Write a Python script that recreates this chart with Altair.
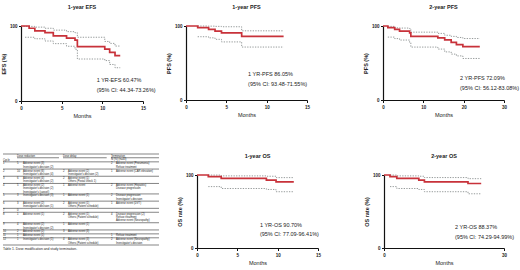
import altair as alt
import pandas as pd

FONT = "Liberation Sans"
RED = "#c8323a"
GRAY = "#8a8f8f"

# ---------------- Kaplan-Meier data (months, %) ----------------
# 1-year EFS
EFS_T = [0, 1.0, 1.7, 2.95, 3.97, 5.6, 6.64, 6.93, 10.3, 10.9, 11.56, 12.2]
EFS_S = [100, 97.0, 93.4, 91.2, 86.8, 83.8, 81.1, 72.4, 69.3, 64.9, 60.47, 60.47]
EFS_HT = [0.3, 1.7, 2.95, 3.97, 5.6, 6.64, 6.93, 10.3, 10.9, 11.56, 12.2]
EFS_H = [99.5, 98.5, 97.0, 94.5, 92.5, 91.0, 85.0, 79.4, 76.8, 73.26, 73.26]
EFS_LT = [0.5, 1.7, 2.95, 3.97, 5.6, 6.64, 6.93, 10.3, 10.9, 11.56, 12.2]
EFS_L = [85.0, 83.0, 80.0, 76.5, 73.0, 69.0, 56.0, 53.9, 48.7, 44.34, 44.34]

# 1-year PFS
PFS1_T = [0, 1.45, 2.8, 3.6, 4.4, 6.9, 12.1]
PFS1_S = [100, 97.7, 95.35, 93.0, 90.7, 86.05, 86.05]
PFS1_HT = [1.45, 2.8, 3.6, 4.4, 6.9, 12.1]
PFS1_H = [100, 99.8, 99.5, 99.0, 93.48, 93.48]
PFS1_LT = [1.45, 2.8, 3.6, 4.4, 6.9, 12.1]
PFS1_L = [85.5, 84.0, 82.0, 78.5, 71.55, 71.55]

# 2-year PFS
PFS2_T = [0, 1.2, 2.9, 4.1, 6.6, 6.9, 13.6, 15.3, 16.9, 18.2, 19.8, 24.0]
PFS2_S = [100, 97.7, 95.35, 93.0, 90.7, 86.05, 84.0, 81.2, 78.0, 74.8, 72.09, 72.09]
PFS2_HT = [1.2, 2.9, 4.1, 6.6, 6.9, 13.6, 15.3, 16.9, 18.2, 19.8, 24.0]
PFS2_H = [99.5, 97.5, 97.2, 96.5, 91.7, 90.0, 87.5, 86.0, 84.5, 83.08, 83.08]
PFS2_LT = [1.2, 2.9, 4.1, 6.6, 6.9, 13.6, 15.3, 16.9, 18.2, 19.8, 24.0]
PFS2_L = [85.0, 83.0, 81.0, 78.0, 71.5, 68.8, 65.0, 62.0, 59.6, 56.12, 56.12]

# 1-year OS
OS1_T = [0, 1.4, 3.0, 8.6, 9.8, 12.0]
OS1_S = [100, 97.7, 95.35, 93.0, 90.7, 90.7]
OS1_HT = [1.4, 3.0, 8.6, 9.8, 12.0]
OS1_H = [99.9, 98.8, 98.3, 96.41, 96.41]
OS1_LT = [1.4, 3.0, 8.6, 9.8, 12.0]
OS1_L = [84.1, 81.5, 80.2, 77.09, 77.09]

# 2-year OS
OS2_T = [0, 1.5, 3.2, 8.7, 10.1, 21.0, 24.3]
OS2_S = [100, 97.7, 95.35, 93.0, 90.7, 88.37, 88.37]
OS2_HT = [1.5, 3.2, 8.7, 10.1, 21.0, 24.3]
OS2_H = [99.9, 98.8, 98.3, 96.5, 94.99, 94.99]
OS2_LT = [1.5, 3.2, 8.7, 10.1, 21.0, 24.3]
OS2_L = [84.1, 81.5, 80.2, 77.1, 74.29, 74.29]

# ---------------- Table 1 data ----------------
CYCLES = ["1", "2", "3", "4", "5", "6", "7", "8", "9", "10", "11", "12"]
RED_N = ["5", "10", "6", "5", "3", "3", "0", "1", "4", "2", "1", "1"]
RED_TXT = [
    ["Adverse event (3)", "Investigator's decision (2)"],
    ["Adverse event (6)", "Investigator's decision (4)"],
    ["Adverse event (4)", "Investigator's decision (2)"],
    ["Adverse event (2)", "Investigator's decision (2)", "Investigator's (cancel)"],
    ["Investigator's decision (3)"],
    ["Adverse event (2)", "Investigator's decision (1)"],
    [],
    ["Adverse event (1)"],
    ["Adverse event (2)", "Investigator's decision (2)"],
    ["Adverse event (2)"],
    ["Adverse event (1)"],
    ["Investigator's decision (1)"],
]
DELAY_N = ["", "2", "2", "1", "1", "2", "", "2", "1", "3", "", "4"]
DELAY_TXT = [
    [],
    ["Adverse event (2)", "Investigator's decision (2)"],
    ["Adverse event (1)", "Others (Postal check 1)"],
    ["Adverse event"],
    ["Adverse event (1)"],
    ["Adverse event (1)", "Others (Patient schedule)"],
    [],
    ["Adverse event (1)", "Others (Patient schedule)"],
    ["Adverse event (1)"],
    ["Adverse event (3)"],
    [],
    ["Adverse event (3)", "Others (Patient schedule)"],
]
TERM_N = ["2", "1", "", "2", "2", "1", "", "4", "", "", "1", "2"]
TERM_TXT = [
    ["Adverse event (Pneumonia)", "Refuse treatment"],
    ["Adverse event (CAR elevation)"],
    [],
    ["Adverse event (Hepatitis)", "Disease progression"],
    ["Disease progression", "Investigator's decision"],
    ["Adverse event (DVT)"],
    [],
    ["Disease progression (2)", "Refuse treatment", "Adverse event (Neuropathy)"],
    [],
    [],
    ["Refuse treatment"],
    ["Adverse event (Neuropathy)", "Investigator's decision"],
]
HEADERS = ["Dose reduction", "Dose delay", "Termination"]
SUBHEADER = "N (%) (n=43)"
CYCLE_LABEL = "Cycle"
CAPTION = "Table 1. Dose modification and study termination."


def km_df(t, s, ht, h, lt, l):
    rows = [{"t": a, "v": b, "s": "est"} for a, b in zip(t, s)]
    rows += [{"t": a, "v": b, "s": "hi"} for a, b in zip(ht, h)]
    rows += [{"t": a, "v": b, "s": "lo"} for a, b in zip(lt, l)]
    return pd.DataFrame(rows)


def km_panel(title, ytitle, xmax, xticks, data, txt1, txt2, tx, ty1, ty2, w, h):
    df = km_df(*data)
    xs = alt.Scale(domain=[0, xmax], nice=False, zero=True)
    ys = alt.Scale(domain=[0, 100], nice=False)
    x = alt.X("t:Q", scale=xs, axis=alt.Axis(values=xticks, title="Months"))
    y = alt.Y("v:Q", scale=ys, axis=alt.Axis(values=[0, 50, 100], title=ytitle))
    base = alt.Chart(df)
    ci = base.transform_filter(alt.datum.s != "est").mark_line(
        interpolate="step-after", color=GRAY, strokeWidth=0.9, strokeDash=[1.3, 1.3]
    ).encode(x=x, y=y, detail="s:N")
    est = base.transform_filter(alt.datum.s == "est").mark_line(
        interpolate="step-after", color=RED, strokeWidth=1.7
    ).encode(x=x, y=y)
    t1 = alt.Chart(pd.DataFrame({"label": [txt1]})).mark_text(
        align="left", baseline="middle", fontSize=5.5, font=FONT, color="#222"
    ).encode(text="label:N", x=alt.datum(tx), y=alt.datum(ty1))
    t2 = alt.Chart(pd.DataFrame({"label": [txt2]})).mark_text(
        align="left", baseline="middle", fontSize=5.5, font=FONT, color="#222"
    ).encode(text="label:N", x=alt.datum(tx), y=alt.datum(ty2))
    return alt.layer(ci, est, t1, t2).properties(
        width=w, height=h,
        title=alt.TitleParams(title, fontSize=5.5, fontWeight="bold", font=FONT,
                              offset=12, anchor="middle", color="#222"),
    )


def spacer(w, h):
    return alt.Chart(pd.DataFrame({"z": [0]})).mark_point(opacity=0, size=0).encode(
        x=alt.value(0), y=alt.value(0)
    ).properties(width=w, height=h)


# ---------------- table chart ----------------
txt_rows = []
rule_rows = []
rule_rows.append({"c1": 0, "c2": 7, "ln": 0.0})
for col, htxt in zip([1, 3, 5], HEADERS):
    txt_rows.append({"c": col, "ln": 0.6, "txt": htxt})
rule_rows += [{"c1": 1, "c2": 2.9, "ln": 1.15}, {"c1": 3, "c2": 4.9, "ln": 1.15},
              {"c1": 5, "c2": 7, "ln": 1.15}]
txt_rows.append({"c": 5, "ln": 1.65, "txt": SUBHEADER})
txt_rows.append({"c": 0, "ln": 1.9, "txt": CYCLE_LABEL})
rule_rows.append({"c1": 0, "c2": 7, "ln": 2.4})
ln = 2.4
for i in range(len(CYCLES)):
    nlines = max(len(RED_TXT[i]), len(DELAY_TXT[i]), len(TERM_TXT[i]), 1)
    first = ln + 0.6
    txt_rows.append({"c": 0, "ln": first, "txt": CYCLES[i]})
    txt_rows.append({"c": 1, "ln": first, "txt": RED_N[i]})
    txt_rows.append({"c": 3, "ln": first, "txt": DELAY_N[i]})
    txt_rows.append({"c": 5, "ln": first, "txt": TERM_N[i]})
    for k, s in enumerate(RED_TXT[i]):
        txt_rows.append({"c": 2, "ln": first + k, "txt": s})
    for k, s in enumerate(DELAY_TXT[i]):
        txt_rows.append({"c": 4, "ln": first + k, "txt": s})
    for k, s in enumerate(TERM_TXT[i]):
        txt_rows.append({"c": 6, "ln": first + k, "txt": s})
    ln = ln + nlines + 0.2
    rule_rows.append({"c1": 0, "c2": 7, "ln": ln})
cap_ln = ln + 1.1
txt_df = pd.DataFrame(txt_rows)
txt_df = txt_df[txt_df["txt"] != ""]
rule_df = pd.DataFrame(rule_rows)
cap_df = pd.DataFrame({"c": [0], "ln": [cap_ln], "txt": [CAPTION]})

tx_scale = alt.Scale(domain=[0, 1, 2, 3, 4, 5, 6, 7],
                     range=[-18, -4, 2, 42, 47, 90, 95, 138], nice=False, zero=False)
ty_scale = alt.Scale(domain=[0, ln], reverse=True, nice=False, zero=False)

table_txt = alt.Chart(txt_df).mark_text(
    align="left", baseline="middle", fontSize=2.7, font=FONT, color="#222"
).encode(
    x=alt.X("c:Q", scale=tx_scale, axis=None),
    y=alt.Y("ln:Q", scale=ty_scale, axis=None),
    text="txt:N",
)
table_cap = alt.Chart(cap_df).mark_text(
    align="left", baseline="middle", fontSize=3.4, font=FONT, color="#222"
).encode(
    x=alt.X("c:Q", scale=tx_scale, axis=None),
    y=alt.Y("ln:Q", scale=ty_scale, axis=None),
    text="txt:N",
)
table_rules = alt.Chart(rule_df).mark_rule(color="#333", strokeWidth=0.6).encode(
    x=alt.X("c1:Q", scale=tx_scale, axis=None),
    x2="c2:Q",
    y=alt.Y("ln:Q", scale=ty_scale, axis=None),
)
table = alt.layer(table_rules, table_txt, table_cap).properties(width=140, height=91)

# ---------------- panels ----------------
p1 = km_panel("1-year EFS", "EFS (%)", 15, [0, 5, 10, 15],
              (EFS_T, EFS_S, EFS_HT, EFS_H, EFS_LT, EFS_L),
              "1 YR-EFS 60.47%", "(95% CI: 44.34-73.26%)", 9.3, 27.6, 14.5, 122, 75)
p2 = km_panel("1-year PFS", "PFS (%)", 15, [0, 5, 10, 15],
              (PFS1_T, PFS1_S, PFS1_HT, PFS1_H, PFS1_LT, PFS1_L),
              "1 YR-PFS 86.05%", "(95% CI: 93.48-71.55%)", 7.7, 34.5, 22.0, 121, 74)
p3 = km_panel("2-year PFS", "PFS (%)", 30, [0, 10, 20, 30],
              (PFS2_T, PFS2_S, PFS2_HT, PFS2_H, PFS2_LT, PFS2_L),
              "2 YR-PFS 72.09%", "(95% CI: 56.12-83.08%)", 19.1, 30.0, 16.5, 121, 74)
p4 = km_panel("1-year OS", "OS rate (%)", 15, [0, 5, 10, 15],
              (OS1_T, OS1_S, OS1_HT, OS1_H, OS1_LT, OS1_L),
              "1 YR-OS 90.70%", "(95% CI: 77.09-96.41%)", 7.8, 31.5, 19.2, 121, 73)
p5 = km_panel("2-year OS", "OS rate (%)", 30, [0, 10, 20, 30],
              (OS2_T, OS2_S, OS2_HT, OS2_H, OS2_LT, OS2_L),
              "2 YR-OS 88.37%", "(95% CI: 74.29-94.99%)", 17.75, 28.8, 15.0, 120, 73)

col0 = alt.vconcat(p1, table, spacing=53, bounds="flush")
col1 = alt.vconcat(p2, alt.hconcat(spacer(11, 73), p4, spacing=0, bounds="flush"),
                   spacing=75, bounds="flush")
col2 = alt.vconcat(p3, alt.hconcat(spacer(0.01, 73), p5, spacing=0, bounds="flush"),
                   spacing=75, bounds="flush")

chart = alt.hconcat(col0, spacer(165, 10), col1, spacer(197, 10), col2,
                    spacing=0, bounds="flush").properties(
    padding={"left": 1, "top": 5, "right": 0, "bottom": 0}
).configure(font=FONT).configure_view(stroke=None).configure_axis(
    domainColor="#111", domainWidth=1.2, tickColor="#111", tickSize=2.5, tickWidth=1,
    labelFontSize=4.5, labelFontWeight="bold", labelColor="#222", labelPadding=1.5,
    labelFlush=False, grid=False, titleFontSize=5.5, titleColor="#222", titleFont=FONT,
    labelFont=FONT,
).configure_axisX(titlePadding=4, titleFontWeight="normal").configure_axisY(
    titlePadding=3, titleFontWeight="bold"
)

chart.save("out.html", embed_options={"renderer": "svg", "actions": False})
